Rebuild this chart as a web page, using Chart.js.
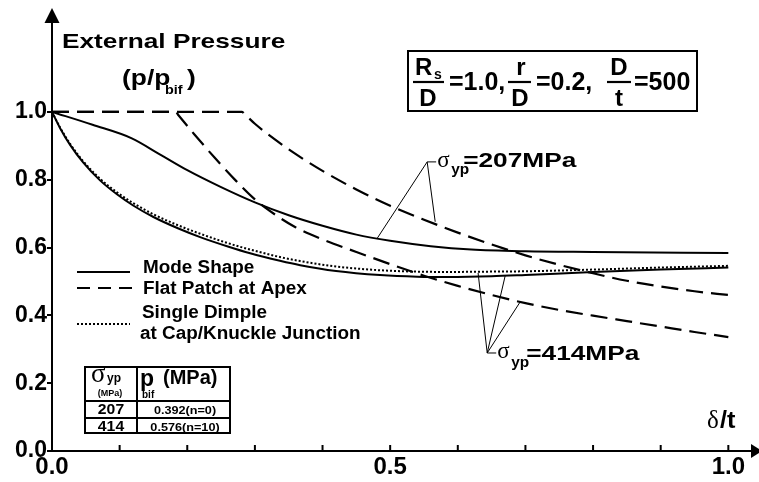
<!DOCTYPE html>
<html><head><meta charset="utf-8">
<script src="https://cdn.jsdelivr.net/npm/chart.js@4.4.1/dist/chart.umd.min.js"></script>
<style>html,body{margin:0;padding:0;background:#fff;}#wrap{width:759px;height:482px;position:relative}</style>
</head><body><div id="wrap"><canvas id="c" width="759" height="482"></canvas></div>
<script>
// ---- data ----
const mode207X = [0, 0.06, 0.118, 0.16, 0.2, 0.25, 0.3, 0.35, 0.4, 0.45, 0.5, 0.56, 0.62, 0.7, 0.8, 1.0];
const mode207Y = [1.0, 0.962, 0.922, 0.874, 0.828, 0.778, 0.733, 0.695, 0.664, 0.638, 0.620, 0.604, 0.594, 0.589, 0.587, 0.584];

const mode414X = [0, 0.012, 0.027, 0.046, 0.071, 0.096, 0.12, 0.15, 0.187, 0.22, 0.26, 0.293, 0.337, 0.367, 0.42, 0.485, 0.54, 0.584, 0.65, 0.7, 0.8, 0.9, 1.0];
const mode414Y = [1.0, 0.952, 0.902, 0.851, 0.798, 0.757, 0.724, 0.690, 0.656, 0.630, 0.603, 0.583, 0.561, 0.548, 0.531, 0.519, 0.514, 0.513, 0.515, 0.519, 0.528, 0.535, 0.541];

const dimple414X = [0, 0.012, 0.027, 0.046, 0.071, 0.096, 0.12, 0.15, 0.187, 0.22, 0.26, 0.293, 0.337, 0.367, 0.42, 0.485, 0.54, 0.584, 0.65, 0.7, 0.8, 0.9, 1.0];
const dimple414Y = [1.0, 0.954, 0.905, 0.855, 0.803, 0.763, 0.731, 0.698, 0.665, 0.640, 0.613, 0.594, 0.572, 0.560, 0.544, 0.533, 0.529, 0.528, 0.529, 0.530, 0.535, 0.541, 0.546];

const flat207X = [0, 0.281, 0.285, 0.3, 0.33, 0.36, 0.4, 0.45, 0.5, 0.55, 0.6, 0.65, 0.7, 0.75, 0.8, 0.85, 0.9, 0.95, 1.0];
const flat207Y = [1.0, 1.0, 0.993, 0.965, 0.918, 0.876, 0.826, 0.771, 0.723, 0.682, 0.644, 0.609, 0.577, 0.549, 0.524, 0.502, 0.485, 0.471, 0.460];

const flat414X = [0, 0.183, 0.187, 0.21, 0.24, 0.27, 0.3, 0.33, 0.36, 0.4, 0.45, 0.5, 0.55, 0.6, 0.65, 0.7, 0.75, 0.8, 0.85, 0.9, 0.95, 1.0];
const flat414Y = [1.0, 1.0, 0.990, 0.935, 0.866, 0.801, 0.742, 0.697, 0.660, 0.624, 0.587, 0.551, 0.517, 0.487, 0.460, 0.436, 0.416, 0.399, 0.383, 0.367, 0.351, 0.336];

const xTickValues = [0, 0.1, 0.2, 0.3, 0.4, 0.5, 0.6, 0.7, 0.8, 0.9, 1.0];
const xTickLabels = ['0.0', '', '', '', '', '0.5', '', '', '', '', '1.0'];
const yTickValues = [0, 0.2, 0.4, 0.6, 0.8, 1.0];
const yTickLabels = ['0.0', '0.2', '0.4', '0.6', '0.8', '1.0'];

const legendLabels = ['Mode Shape', 'Flat Patch at Apex', 'Single Dimple', 'at Cap/Knuckle Junction'];
const tableSigma = ['207', '414'];
const tablePbif = ['0.392(n=0)', '0.576(n=10)'];

// leader-line anchors in data coordinates
const ann207Vertex = [0.5547, 0.8525];
const ann207Targets = [[0.4808, 0.627], [0.5666, 0.676]];
const ann414Vertex = [0.6435, 0.289];
const ann414Targets = [[0.630, 0.525], [0.670, 0.516], [0.692, 0.439]];

const pts = (xs, ys) => xs.map((v, i) => ({x: v, y: ys[i]}));
const SANS = "'Liberation Sans'";
const SERIF = "'Liberation Serif'";

const base = {showLine: true, pointRadius: 0, borderColor: '#000', fill: false, cubicInterpolationMode: 'monotone'};
const datasets = [
  Object.assign({label: 'mode207', data: pts(mode207X, mode207Y), borderWidth: 2}, base),
  Object.assign({label: 'mode414', data: pts(mode414X, mode414Y), borderWidth: 2}, base),
  Object.assign({label: 'dimple414', data: pts(dimple414X, dimple414Y), borderWidth: 2, borderDash: [2, 2]}, base),
  Object.assign({label: 'flat207', data: pts(flat207X, flat207Y), borderWidth: 2.2, borderDash: [17, 8]}, base),
  Object.assign({label: 'flat414', data: pts(flat414X, flat414Y), borderWidth: 2.2, borderDash: [17, 8]}, base)
];

function txt(ctx, s, x, y, font, align, sx) {
  ctx.save();
  ctx.font = font; ctx.textAlign = align || 'left'; ctx.textBaseline = 'alphabetic';
  ctx.translate(x, y); ctx.scale(sx || 1, 1);
  ctx.fillText(s, 0, 0);
  ctx.restore();
}
function line(ctx, x1, y1, x2, y2, w, dash) {
  ctx.beginPath(); ctx.lineWidth = w; ctx.setLineDash(dash || []);
  ctx.moveTo(x1, y1); ctx.lineTo(x2, y2); ctx.stroke(); ctx.setLineDash([]);
}

const deco = {
  id: 'deco',
  afterDraw(chart) {
    const {ctx, chartArea: a, scales: {x, y}} = chart;
    ctx.save();
    ctx.fillStyle = '#000'; ctx.strokeStyle = '#000';
    // axis arrows
    ctx.beginPath(); ctx.moveTo(a.left, a.top - 13); ctx.lineTo(a.left - 7.5, a.top + 2); ctx.lineTo(a.left + 7.5, a.top + 2); ctx.closePath(); ctx.fill();
    ctx.beginPath(); ctx.moveTo(a.right + 10, a.bottom); ctx.lineTo(a.right - 1, a.bottom - 7); ctx.lineTo(a.right - 1, a.bottom + 7); ctx.closePath(); ctx.fill();
    // inward x ticks
    xTickValues.forEach(v => { if (v > 0) { const px = x.getPixelForValue(v); line(ctx, px, a.bottom, px, a.bottom - 6, 2); } });

    // y title
    txt(ctx, 'External Pressure', 62, 48, `bold 21px ${SANS}`, 'left', 1.25);
    txt(ctx, '(p/p', 122, 85, `bold 22px ${SANS}`, 'left', 1.2);
    txt(ctx, 'bif', 165, 94, `bold 12px ${SANS}`, 'left', 1.2);
    txt(ctx, ')', 187, 85, `bold 22px ${SANS}`, 'left', 1.2);
    // x title
    txt(ctx, '\u03b4', 707, 428, `25px ${SERIF}`);
    txt(ctx, '/t', 720, 428, `bold 23px ${SANS}`, 'left', 1.1);

    // parameter box
    ctx.lineWidth = 2; ctx.strokeRect(408, 51, 289, 60);
    const bf = `bold 24px ${SANS}`;
    txt(ctx, 'R', 415, 75, bf); txt(ctx, 's', 434, 79, `bold 14px ${SANS}`);
    line(ctx, 413, 82, 444, 82, 2.2);
    txt(ctx, 'D', 428, 106, bf, 'center');
    txt(ctx, '=1.0,', 449, 90, `bold 25px ${SANS}`);
    txt(ctx, 'r', 521, 75, bf, 'center');
    line(ctx, 508, 82, 531, 82, 2.2);
    txt(ctx, 'D', 520, 106, bf, 'center');
    txt(ctx, '=0.2,', 536, 90, `bold 25px ${SANS}`);
    txt(ctx, 'D', 619, 75, bf, 'center');
    line(ctx, 607, 82, 631, 82, 2.2);
    txt(ctx, 't', 619, 106, bf, 'center');
    txt(ctx, '=500', 634, 90, `bold 25px ${SANS}`);

    // leaders
    const P = (p) => [x.getPixelForValue(p[0]), y.getPixelForValue(p[1])];
    const v1 = P(ann207Vertex);
    ann207Targets.forEach(t => { const q = P(t); line(ctx, v1[0], v1[1], q[0], q[1], 1); });
    line(ctx, v1[0], v1[1], v1[0] + 9, v1[1], 1);
    txt(ctx, '\u03c3', v1[0] + 10, v1[1] + 5, `23px ${SERIF}`);
    txt(ctx, 'yp', v1[0] + 24, v1[1] + 12, `bold 14px ${SANS}`, 'left', 1.1);
    txt(ctx, '=207MPa', v1[0] + 36, v1[1] + 5, `bold 21px ${SANS}`, 'left', 1.25);
    const v2 = P(ann414Vertex);
    ann414Targets.forEach(t => { const q = P(t); line(ctx, v2[0], v2[1], q[0], q[1], 1); });
    line(ctx, v2[0], v2[1], v2[0] + 9, v2[1], 1);
    txt(ctx, '\u03c3', v2[0] + 10, v2[1] + 5, `23px ${SERIF}`);
    txt(ctx, 'yp', v2[0] + 24, v2[1] + 14, `bold 14px ${SANS}`, 'left', 1.1);
    txt(ctx, '=414MPa', v2[0] + 39, v2[1] + 7, `bold 21px ${SANS}`, 'left', 1.25);

    // legend
    line(ctx, 77, 272, 130, 272, 2);
    line(ctx, 77, 288, 132, 288, 2.2, [13, 8]);
    line(ctx, 77, 324, 130, 324, 2, [2, 2]);
    const lf = `bold 17.5px ${SANS}`;
    txt(ctx, legendLabels[0], 143, 273, lf, 'left', 1.08);
    txt(ctx, legendLabels[1], 143, 294, lf, 'left', 1.08);
    txt(ctx, legendLabels[2], 142, 318, lf, 'left', 1.08);
    txt(ctx, legendLabels[3], 140, 339, lf, 'left', 1.08);

    // table
    ctx.lineWidth = 2;
    ctx.strokeRect(85, 367, 145, 66);
    line(ctx, 85, 401, 230, 401, 2);
    line(ctx, 85, 418, 230, 418, 2);
    line(ctx, 137, 367, 137, 433, 2);
    txt(ctx, '\u03c3', 91, 382, `27px ${SERIF}`);
    txt(ctx, 'yp', 107, 382, `bold 12px ${SANS}`);
    txt(ctx, '(MPa)', 110, 396, `bold 9px ${SANS}`, 'center');
    txt(ctx, 'p', 140, 386, `bold 23px ${SANS}`);
    txt(ctx, 'bif', 142, 398, `bold 10px ${SANS}`);
    txt(ctx, '(MPa)', 163, 384, `bold 20px ${SANS}`);
    txt(ctx, tableSigma[0], 111, 414, `bold 15px ${SANS}`, 'center', 1.05);
    txt(ctx, tableSigma[1], 111, 431, `bold 15px ${SANS}`, 'center', 1.05);
    txt(ctx, tablePbif[0], 185, 414, `bold 11.5px ${SANS}`, 'center', 1.1);
    txt(ctx, tablePbif[1], 185, 431, `bold 11.5px ${SANS}`, 'center', 1.1);
    ctx.restore();
  }
};

new Chart(document.getElementById('c'), {
  type: 'line',
  data: {datasets},
  options: {
    responsive: false, animation: false, events: [],
    layout: {padding: {top: 21, right: 7, left: 0, bottom: 0}},
    plugins: {legend: {display: false}, tooltip: {enabled: false}},
    scales: {
      x: {
        type: 'linear', min: 0, max: 1.035,
        afterBuildTicks: s => { s.ticks = xTickValues.map(v => ({value: v})); },
        afterFit: s => { s.height = 31; },
        ticks: {autoSkip: false, maxRotation: 0, padding: 2, color: '#000',
          font: {family: 'Liberation Sans', weight: 'bold', size: 24},
          callback: (v) => { const i = xTickValues.findIndex(t => Math.abs(t - v) < 1e-6); return i >= 0 ? xTickLabels[i] : ''; }},
        grid: {display: false, drawTicks: false},
        border: {display: true, color: '#000', width: 2}
      },
      y: {
        type: 'linear', min: 0, max: 1.268,
        afterBuildTicks: s => { s.ticks = yTickValues.map(v => ({value: v})); },
        afterFit: s => { s.width = 52; },
        ticks: {autoSkip: false, padding: 0, color: '#000',
          font: {family: 'Liberation Sans', weight: 'bold', size: 23},
          callback: (v) => { const i = yTickValues.findIndex(t => Math.abs(t - v) < 1e-6); return i >= 0 ? yTickLabels[i] : ''; }},
        grid: {display: true, drawOnChartArea: false, drawTicks: true, tickLength: 5, color: '#000', lineWidth: 2},
        border: {display: true, color: '#000', width: 2}
      }
    }
  },
  plugins: [deco]
});
</script>
</body></html>
